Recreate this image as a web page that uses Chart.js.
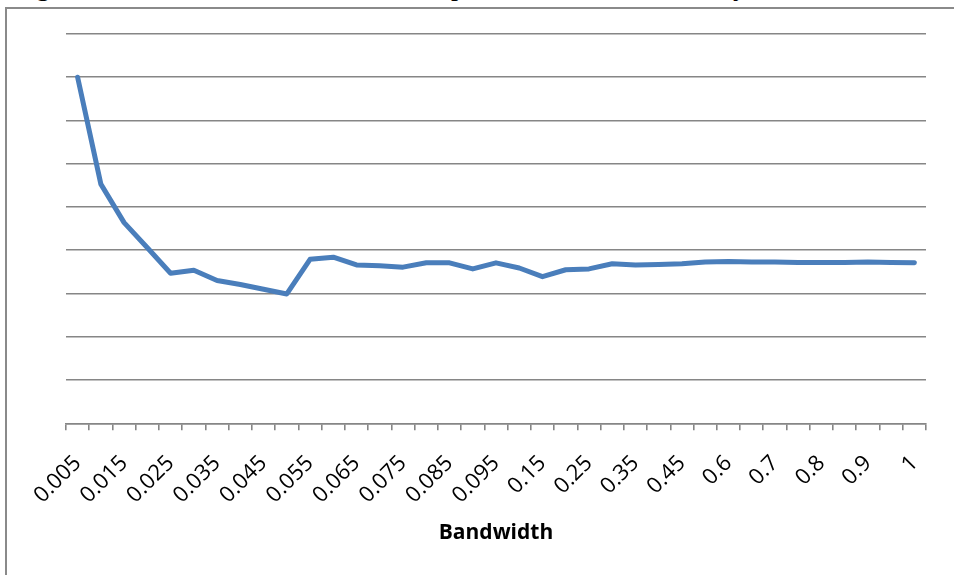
<!DOCTYPE html>
<html>
<head>
<meta charset="utf-8">
<script src="https://cdn.jsdelivr.net/npm/chart.js@4.4.1/dist/chart.umd.min.js"></script>
<style>
  html, body { margin: 0; padding: 0; background: #fff; overflow: hidden; }
  #wrap { position: relative; width: 954px; height: 575px; overflow: hidden; }
  #frame { position: absolute; left: 5px; top: 7px; right: -10px; bottom: -10px;
           border-left: 2px solid #8a8a8a; border-top: 2px solid #8a8a8a; }
  canvas { position: absolute; left: 0; top: 0; }
  .cap { position: absolute; top: -28px; font-family: 'Liberation Serif', serif; font-size: 28px; line-height: 1; color: #000; }
</style>
</head>
<body>
<div id="wrap">
  <span class="cap" style="left:36px">g</span>
  <span class="cap" style="left:451px">p</span>
  <span class="cap" style="left:733px">y,</span>
  <div id="frame"></div>
  <canvas id="c" width="954" height="575"></canvas>
</div>
<script>
// categories along the x axis
const bandwidths = ['0.005', '0.01', '0.015', '0.02', '0.025', '0.03', '0.035', '0.04', '0.045', '0.05',
  '0.055', '0.06', '0.065', '0.07', '0.075', '0.08', '0.085', '0.09', '0.095', '0.1',
  '0.15', '0.2', '0.25', '0.3', '0.35', '0.4', '0.45', '0.5',
  '0.6', '0.65', '0.7', '0.75', '0.8', '0.85', '0.9', '0.95', '1'];

// labels that are actually printed under the axis
const shownTicks = ['0.005', '0.015', '0.025', '0.035', '0.045', '0.055', '0.065', '0.075', '0.085', '0.095',
  '0.15', '0.25', '0.35', '0.45', '0.6', '0.7', '0.8', '0.9', '1'];

// series, in gridline units (y labels are not visible in the picture)
const errorValues = [8.0, 5.53, 4.64, 4.06, 3.47, 3.54, 3.30, 3.21, 3.10, 2.99,
  3.79, 3.84, 3.66, 3.64, 3.61, 3.71, 3.71, 3.57, 3.71, 3.59,
  3.39, 3.55, 3.57, 3.69, 3.66, 3.67, 3.69, 3.73,
  3.74, 3.73, 3.73, 3.72, 3.72, 3.72, 3.73, 3.72, 3.71];

const yMin = 0;
const yMax = 9;

const gridGray = '#868686';

new Chart(document.getElementById('c'), {
  type: 'line',
  data: {
    labels: bandwidths,
    datasets: [{
      data: errorValues,
      borderColor: '#4a7ebb',
      borderWidth: 5,
      pointRadius: 0,
      tension: 0,
      fill: false,
      borderCapStyle: 'round',
      borderJoinStyle: 'round'
    }]
  },
  options: {
    responsive: false,
    animation: false,
    devicePixelRatio: 1,
    layout: { padding: { left: 66, right: 28, top: 34, bottom: 0 } },
    plugins: { legend: { display: false }, tooltip: { enabled: false } },
    scales: {
      x: {
        offset: true,
        grid: { offset: true, drawOnChartArea: false, drawTicks: true, tickLength: 7, color: gridGray, lineWidth: 1.6 },
        border: { display: true, color: gridGray, width: 1.6 },
        ticks: {
          autoSkip: false,
          maxRotation: 45,
          minRotation: 45,
          padding: 20,
          color: '#000',
          font: { family: 'Open Sans', size: 22 },
          callback: function (v, i) {
            const l = bandwidths[i];
            return shownTicks.includes(l) ? l : '';
          }
        },
        title: {
          display: true,
          text: 'Bandwidth',
          color: '#000',
          font: { family: 'Open Sans', size: 21, weight: 'bold' },
          padding: { top: 0, bottom: 29 }
        },
        afterFit: function (s) { s.height = 575 - 423.3; }
      },
      y: {
        min: yMin,
        max: yMax,
        ticks: { display: false, stepSize: 1 },
        grid: { color: gridGray, lineWidth: 1.6, drawTicks: false },
        border: { display: false },
        afterFit: function (s) { s.width = 0; }
      }
    }
  }
});
</script>
</body>
</html>
